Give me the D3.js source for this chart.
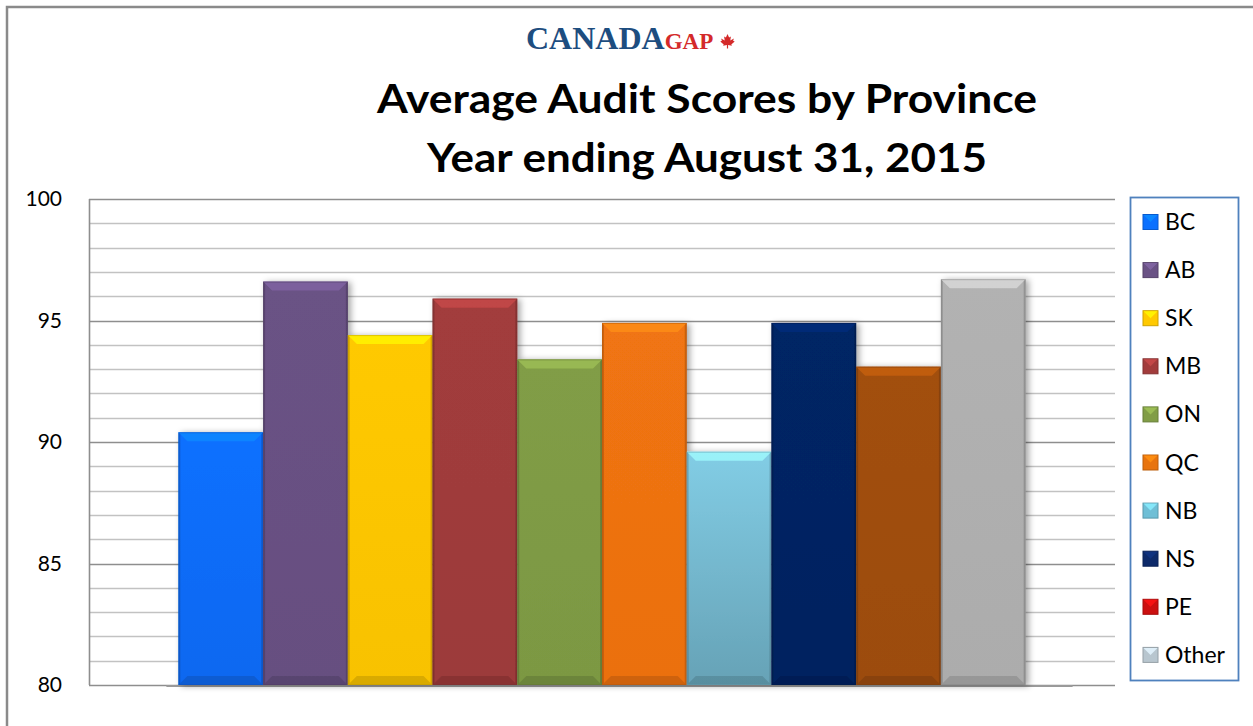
<!DOCTYPE html>
<html>
<head>
<meta charset="utf-8">
<script src="https://cdn.jsdelivr.net/npm/d3@7"></script>
<style>
  html, body { margin: 0; padding: 0; background: #fff; }
  svg { display: block; }
</style>
</head>
<body>
<svg id="chart" width="1253" height="726"></svg>
<script>
// data
const provinces = ["BC", "AB", "SK", "MB", "ON", "QC", "NB", "NS", "PE", "Other"];
const scores = [90.4, 96.6, 94.4, 95.9, 93.4, 94.9, 89.6, 94.9, 93.1, 96.7];
const yTicks = [80, 85, 90, 95, 100];

// bar fill (top / bottom) and legend swatch colours
const barTop = ["#0a70ff", "#6a5285", "#ffc900", "#a23c3c", "#819d46", "#f07412", "#82cde5", "#062565", "#a24f0e", "#b2b2b2"];
const barBottom = ["#0a68f0", "#664f80", "#f8c200", "#9c3a3a", "#7c9843", "#eb7010", "#66a2b6", "#062360", "#9c4c0e", "#acacac"];
const swatchColors = ["#0a70ff", "#6a5285", "#ffc900", "#a23c3c", "#819d46", "#e8740e", "#6fbfd6", "#0d2a6a", "#cc1010", "#b8c6cf"];

const W = 1253, H = 726;
const plot = { left: 89, right: 1115, top: 199, bottom: 685 };

const svg = d3.select("#chart");
const defs = svg.append("defs");

// outer chart border
svg.append("rect")
    .attr("x", 7).attr("y", 7)
    .attr("width", W + 20).attr("height", H + 20)
    .attr("fill", "#fff")
    .attr("stroke", "#8a8a8a").attr("stroke-width", 2.5);

// logo
const logo = svg.append("text")
    .attr("x", 526).attr("y", 48.5)
    .attr("font-family", "Liberation Serif, serif")
    .attr("font-weight", "bold");
logo.append("tspan").attr("font-size", 32).attr("fill", "#1d4d7f").text("CANADA");
logo.append("tspan").attr("font-size", 23).attr("fill", "#d42a2a").text("GAP");

const leaf = "M0,-7 L1.6,-3.6 L3.4,-4.6 L2.8,-0.6 L6.4,-2.6 L5.6,-0.2 L7.2,0.6 L3.8,3.4 L4.4,4.8 L0.6,4 L0.6,7.4 L-0.6,7.4 L-0.6,4 L-4.4,4.8 L-3.8,3.4 L-7.2,0.6 L-5.6,-0.2 L-6.4,-2.6 L-2.8,-0.6 L-3.4,-4.6 L-1.6,-3.6 Z";
svg.append("path")
    .attr("d", leaf)
    .attr("transform", "translate(727.5,41)")
    .attr("fill", "#d42a2a");

// title
const titleLines = ["Average Audit Scores by Province", "Year ending August 31, 2015"];
const titleWidths = [660, 560];
svg.selectAll("text.title")
    .data(titleLines)
    .enter().append("text")
    .attr("class", "title")
    .attr("x", 707)
    .attr("y", (d, i) => 113 + i * 59)
    .attr("text-anchor", "middle")
    .attr("font-family", "Lato, 'Open Sans', sans-serif")
    .attr("font-weight", "bold")
    .attr("font-size", 41)
    .attr("textLength", (d, i) => titleWidths[i])
    .attr("lengthAdjust", "spacingAndGlyphs")
    .attr("fill", "#000")
    .text(d => d);

// scales
const x = d3.scaleBand()
    .domain(provinces)
    .range([plot.left, plot.right])
    .paddingInner(0)
    .paddingOuter(1.055);

const y = d3.scaleLinear()
    .domain([80, 100])
    .range([plot.bottom, plot.top]);

// gridlines (minor every 1, major every 5)
const grid = svg.append("g");
grid.selectAll("line")
    .data(d3.range(80, 101, 1))
    .enter().append("line")
    .attr("x1", plot.left).attr("x2", plot.right)
    .attr("y1", d => Math.round(y(d)) + 0.5)
    .attr("y2", d => Math.round(y(d)) + 0.5)
    .attr("stroke", d => d % 5 === 0 ? "#8e8e8e" : "#c2c2c2")
    .attr("stroke-width", 1.6);

// plot-area left edge
svg.append("line")
    .attr("x1", plot.left + 0.5).attr("x2", plot.left + 0.5)
    .attr("y1", plot.top).attr("y2", plot.bottom)
    .attr("stroke", "#8e8e8e").attr("stroke-width", 1.6);

// y axis labels
const yAxis = d3.axisLeft(y).tickValues(yTicks).tickSize(0).tickPadding(27);
svg.append("g")
    .attr("transform", `translate(${plot.left},0)`)
    .call(yAxis)
    .call(g => g.select(".domain").remove())
    .call(g => g.selectAll("text")
        .attr("font-family", "Lato, 'Open Sans', sans-serif")
        .attr("font-size", 21)
        .attr("fill", "#000"));

// bars
const shadow = defs.append("filter").attr("id", "shadow")
    .attr("x", "-20%").attr("y", "-10%").attr("width", "140%").attr("height", "120%");
shadow.append("feDropShadow")
    .attr("dx", 3).attr("dy", 1).attr("stdDeviation", 3)
    .attr("flood-color", "#000").attr("flood-opacity", 0.35);

provinces.forEach((p, i) => {
    const gr = defs.append("linearGradient")
        .attr("id", "grad" + i)
        .attr("x1", 0).attr("y1", 0).attr("x2", 0).attr("y2", 1);
    gr.append("stop").attr("offset", "0%").attr("stop-color", barTop[i]);
    gr.append("stop").attr("offset", "100%").attr("stop-color", barBottom[i]);
});

// floor line
svg.append("line")
    .attr("x1", x(provinces[0]) - 12).attr("x2", x(provinces[provinces.length - 1]) + x.bandwidth() + 47)
    .attr("y1", plot.bottom + 1).attr("y2", plot.bottom + 1)
    .attr("stroke", "#9a9a9a").attr("stroke-width", 2);

const bars = svg.append("g").attr("filter", "url(#shadow)");
const b = 9;

const barG = bars.selectAll("g.bar")
    .data(provinces.map((p, i) => ({ p, v: scores[i], i })))
    .enter().append("g")
    .attr("class", "bar");

barG.append("rect")
    .attr("x", d => x(d.p))
    .attr("y", d => y(d.v))
    .attr("width", x.bandwidth())
    .attr("height", d => plot.bottom - y(d.v))
    .attr("fill", d => `url(#grad${d.i})`);

// top bevel (light)
barG.append("path")
    .attr("d", d => {
        const x0 = x(d.p), x1 = x0 + x.bandwidth(), y0 = y(d.v);
        return `M${x0},${y0}L${x1},${y0}L${x1 - b},${y0 + b}L${x0 + b},${y0 + b}Z`;
    })
    .attr("fill", d => d3.color(barTop[d.i]).brighter(0.6))
    .attr("opacity", 0.75);

// bottom bevel (dark)
barG.append("path")
    .attr("d", d => {
        const x0 = x(d.p), x1 = x0 + x.bandwidth(), y1 = plot.bottom;
        return `M${x0},${y1}L${x1},${y1}L${x1 - b},${y1 - b}L${x0 + b},${y1 - b}Z`;
    })
    .attr("fill", "#000")
    .attr("opacity", 0.12);

// side edges
barG.append("path")
    .attr("d", d => {
        const x0 = x(d.p), x1 = x0 + x.bandwidth(), y0 = y(d.v), y1 = plot.bottom;
        return `M${x0},${y0}L${x0 + 2},${y0 + 2}L${x0 + 2},${y1 - 2}L${x0},${y1}Z` +
               `M${x1},${y0}L${x1 - 2},${y0 + 2}L${x1 - 2},${y1 - 2}L${x1},${y1}Z`;
    })
    .attr("fill", "#000")
    .attr("opacity", 0.15);

barG.append("rect")
    .attr("x", d => x(d.p) + 0.5)
    .attr("y", d => y(d.v) + 0.5)
    .attr("width", x.bandwidth() - 1)
    .attr("height", d => plot.bottom - y(d.v) - 1)
    .attr("fill", "none")
    .attr("stroke", d => d3.color(barTop[d.i]).darker(0.8))
    .attr("stroke-opacity", 0.5);

// legend
const legend = svg.append("g");
legend.append("rect")
    .attr("x", 1130.5).attr("y", 197.5)
    .attr("width", 108).attr("height", 483)
    .attr("fill", "#fff")
    .attr("stroke", "#4f81bd").attr("stroke-width", 1.8);

const item = legend.selectAll("g.item")
    .data(provinces)
    .enter().append("g")
    .attr("class", "item")
    .attr("transform", (d, i) => `translate(1143,${222 + i * 48.1})`);

item.append("rect")
    .attr("x", 0).attr("y", -7.5)
    .attr("width", 15).attr("height", 15)
    .attr("fill", (d, i) => swatchColors[i])
    .attr("stroke", (d, i) => d3.color(swatchColors[i]).darker(0.6))
    .attr("stroke-width", 1);

item.append("path")
    .attr("d", "M0.5,-7 L14.5,-7 L7.5,0 Z")
    .attr("fill", (d, i) => d3.color(swatchColors[i]).brighter(0.6))
    .attr("opacity", 0.85);

item.append("text")
    .attr("x", 22).attr("y", 0)
    .attr("dy", "0.35em")
    .attr("font-family", "Lato, 'Open Sans', sans-serif")
    .attr("font-size", 23)
    .attr("fill", "#000")
    .text(d => d);
</script>
</body>
</html>
